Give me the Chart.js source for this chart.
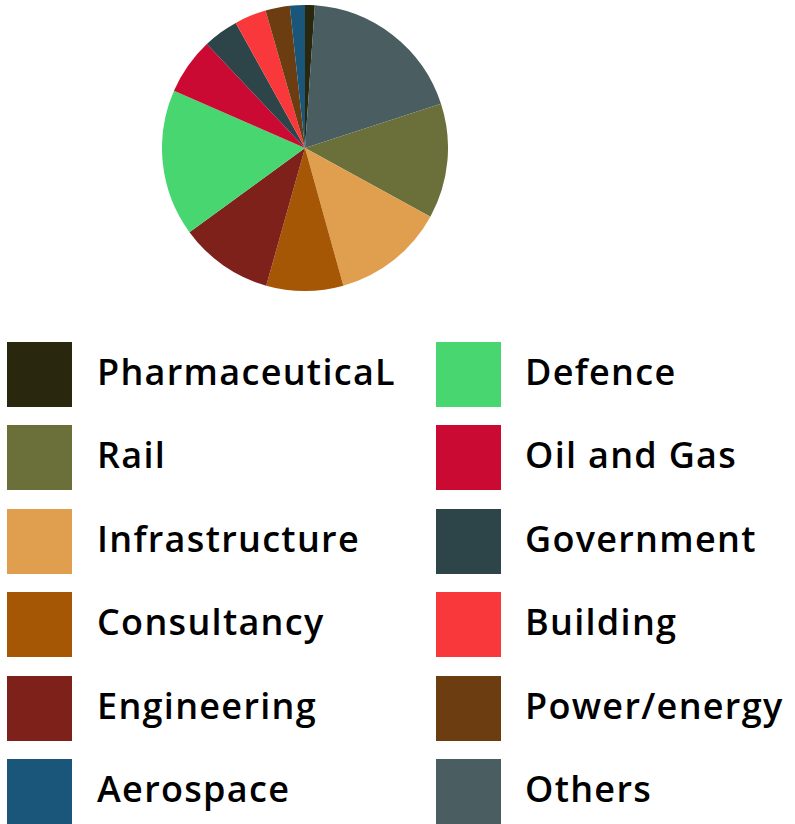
<!DOCTYPE html>
<html>
<head>
<meta charset="utf-8">
<script src="https://cdn.jsdelivr.net/npm/chart.js@4/dist/chart.umd.min.js"></script>
<style>
  html, body { margin: 0; padding: 0; background: #fff; }
  body { width: 795px; height: 824px; position: relative; overflow: hidden; font-family: "Open Sans", Lato, sans-serif; }
  #wrap { position: absolute; left: 162px; top: 5px; width: 286px; height: 286px; }
  .item { position: absolute; height: 65px; }
  .sw { position: absolute; left: 0; top: 0; width: 65px; height: 65px; }
  .lbl { position: absolute; left: 90px; top: -3px; height: 65px; line-height: 65px; font-size: 36px; font-weight: 600; color: #000; white-space: nowrap; letter-spacing: 1.3px; }
</style>
</head>
<body>
<div id="wrap"><canvas id="c" width="286" height="286"></canvas></div>
<div id="legend"></div>
<script>
// Slices in drawing order (clockwise from the top)
const categories = ["PharmaceuticaL", "Others", "Rail", "Infrastructure", "Consultancy", "Engineering", "Defence", "Oil and Gas", "Government", "Building", "Power/energy", "Aerospace"];
const shares = [1.1, 18.9, 13.0, 12.7, 8.7, 10.6, 16.6, 6.4, 4.0, 3.6, 2.75, 1.7];
const colours = ["#29280e", "#4a5e62", "#6b703a", "#e09f4e", "#a65705", "#7e211a", "#48d670", "#cb0a33", "#2d4449", "#f8383a", "#6b3d10", "#195679"];
// Legend order (two columns, read down)
const legendLeft = ["PharmaceuticaL", "Rail", "Infrastructure", "Consultancy", "Engineering", "Aerospace"];
const legendRight = ["Defence", "Oil and Gas", "Government", "Building", "Power/energy", "Others"];

new Chart(document.getElementById('c'), {
  type: 'pie',
  data: {
    labels: categories,
    datasets: [{ data: shares, backgroundColor: colours, borderWidth: 0 }]
  },
  options: {
    responsive: false,
    animation: false,
    layout: { padding: 0 },
    plugins: { legend: { display: false }, tooltip: { enabled: false } }
  }
});

const legend = document.getElementById('legend');
function addCol(list, x, textOffset) {
  list.forEach((name, i) => {
    const idx = categories.indexOf(name);
    const d = document.createElement('div');
    d.className = 'item';
    d.style.left = x + 'px';
    d.style.top = (342 + i * 83.4) + 'px';
    d.innerHTML = '<div class="sw" style="background:' + colours[idx] + '"></div><div class="lbl" style="left:' + textOffset + 'px">' + name + '</div>';
    legend.appendChild(d);
  });
}
addCol(legendLeft, 7, 90);
addCol(legendRight, 436, 89);
</script>
</body>
</html>
